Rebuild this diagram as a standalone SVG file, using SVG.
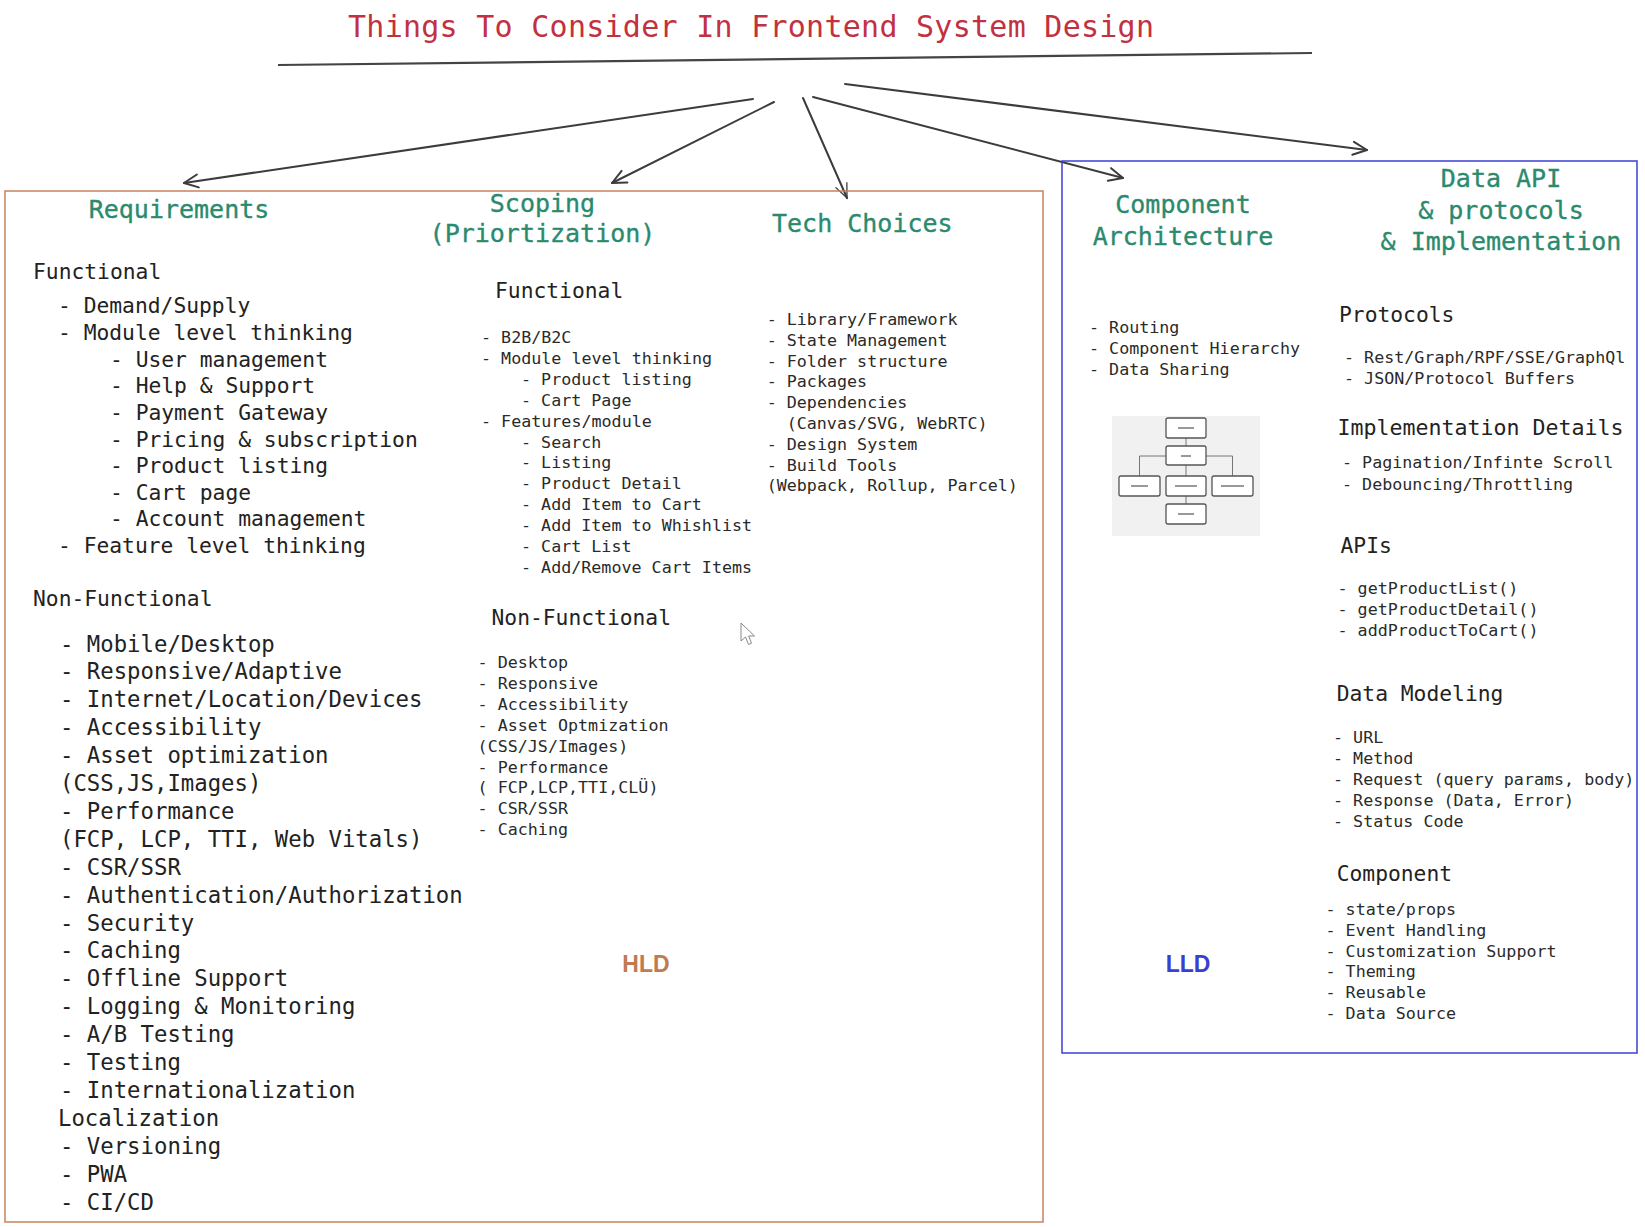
<svg xmlns="http://www.w3.org/2000/svg" width="1645" height="1227" viewBox="0 0 1645 1227">
<defs>
<style>
text { font-family: "DejaVu Sans Mono", "Liberation Mono", monospace; fill: #222; }
.title { font-size: 30px; fill: #c2313f; }
.hd { font-size: 25px; fill: #2b8a6e; stroke: #2b8a6e; stroke-width: 0.35; text-anchor: middle; }
.sub { font-size: 21.3px; }
.m { font-size: 21.3px; }
.l { font-size: 22.3px; }
.s { font-size: 16.7px; fill: #2a2a2a; }
.tag { font-family: "Liberation Sans", Arial, sans-serif; font-weight: bold; font-size: 23px; text-anchor: middle; }
.conn { fill: none; stroke: #3c3c3c; stroke-width: 2; stroke-linecap: round; }
.mini { fill: #fff; stroke: #555; stroke-width: 1.3; }
.miniline { fill: none; stroke: #777; stroke-width: 1; }
.minitxt { fill: #999; }
</style>
<marker id="ah" viewBox="-16 -9 18 18" refX="0" refY="0" markerWidth="18" markerHeight="18" markerUnits="userSpaceOnUse" orient="auto">
<path d="M-14,-6.5 L0,0 L-14,6.5" fill="none" stroke="#3c3c3c" stroke-width="2" stroke-linecap="round" stroke-linejoin="round"/>
</marker>
<marker id="ahThin" viewBox="-16 -9 18 18" refX="0" refY="0" markerWidth="18" markerHeight="18" markerUnits="userSpaceOnUse" orient="auto">
<path d="M-14,-6 L0,0 L-14,6" fill="none" stroke="#3c3c3c" stroke-width="1.3" stroke-linecap="round"/>
</marker>
</defs>
<rect width="1645" height="1227" fill="#ffffff"/>

<g id="title">
<text class="title" x="348" y="37" textLength="806" lengthAdjust="spacing">Things To Consider In Frontend System Design</text>
<line x1="278" y1="65" x2="1312" y2="53" stroke="#444" stroke-width="2.2"/>
</g>

<g id="connectors">
<line class="conn" x1="753" y1="99" x2="184" y2="183" marker-end="url(#ah)"/>
<line class="conn" x1="774" y1="102" x2="612" y2="183" marker-end="url(#ah)"/>
<line class="conn" x1="803" y1="98" x2="847" y2="198" stroke-width="1.3" marker-end="url(#ahThin)"/>
<line class="conn" x1="813" y1="97" x2="1123" y2="178" marker-end="url(#ah)"/>
<line class="conn" x1="845" y1="84" x2="1367" y2="150" marker-end="url(#ah)"/>
</g>

<g id="hld">
<rect x="5" y="191" width="1038" height="1031" fill="none" stroke="#c8825e" stroke-width="1.5"/>
<text class="tag" x="646" y="972" style="fill:#c27a52">HLD</text>
</g>

<g id="lld">
<rect x="1062" y="161" width="575" height="892" fill="none" stroke="#3a3fd6" stroke-width="1.5"/>
<text class="tag" x="1188" y="972" style="fill:#3b3fd0">LLD</text>
</g>

<g id="requirements">
<text class="hd" x="179" y="218">Requirements</text>
<text class="sub" x="33" y="279">Functional</text>
<text class="m" x="58" y="313">- Demand/Supply</text>
<text class="m" x="58" y="340">- Module level thinking</text>
<text class="m" x="110" y="366.5">- User management</text>
<text class="m" x="110" y="393">- Help &amp; Support</text>
<text class="m" x="110" y="420">- Payment Gateway</text>
<text class="m" x="110" y="446.5">- Pricing &amp; subscription</text>
<text class="m" x="110" y="473">- Product listing</text>
<text class="m" x="110" y="500">- Cart page</text>
<text class="m" x="110" y="526">- Account management</text>
<text class="m" x="58" y="553">- Feature level thinking</text>
<text class="sub" x="33" y="606">Non-Functional</text>
<text class="l" x="60" y="651.5">- Mobile/Desktop</text>
<text class="l" x="60" y="679.4">- Responsive/Adaptive</text>
<text class="l" x="60" y="707.3">- Internet/Location/Devices</text>
<text class="l" x="60" y="735.2">- Accessibility</text>
<text class="l" x="60" y="763.1">- Asset optimization</text>
<text class="l" x="60" y="791">(CSS,JS,Images)</text>
<text class="l" x="60" y="818.9">- Performance</text>
<text class="l" x="60" y="846.8">(FCP, LCP, TTI, Web Vitals)</text>
<text class="l" x="60" y="874.7">- CSR/SSR</text>
<text class="l" x="60" y="902.6">- Authentication/Authorization</text>
<text class="l" x="60" y="930.5">- Security</text>
<text class="l" x="60" y="958.4">- Caching</text>
<text class="l" x="60" y="986.3">- Offline Support</text>
<text class="l" x="60" y="1014.2">- Logging &amp; Monitoring</text>
<text class="l" x="60" y="1042.1">- A/B Testing</text>
<text class="l" x="60" y="1070">- Testing</text>
<text class="l" x="60" y="1097.9">- Internationalization</text>
<text class="l" x="58" y="1125.8">Localization</text>
<text class="l" x="60" y="1153.7">- Versioning</text>
<text class="l" x="60" y="1181.6">- PWA</text>
<text class="l" x="60" y="1209.5">- CI/CD</text>
</g>

<g id="scoping">
<text class="hd" x="542.5" y="212">Scoping</text>
<text class="hd" x="542.5" y="242">(Priortization)</text>
<text class="sub" x="495" y="298">Functional</text>
<text class="s" x="481" y="343">- B2B/B2C</text>
<text class="s" x="481" y="363.9">- Module level thinking</text>
<text class="s" x="521" y="384.8">- Product listing</text>
<text class="s" x="521" y="405.7">- Cart Page</text>
<text class="s" x="481" y="426.6">- Features/module</text>
<text class="s" x="521" y="447.5">- Search</text>
<text class="s" x="521" y="468.4">- Listing</text>
<text class="s" x="521" y="489.3">- Product Detail</text>
<text class="s" x="521" y="510.2">- Add Item to Cart</text>
<text class="s" x="521" y="531.1">- Add Item to Whishlist</text>
<text class="s" x="521" y="552">- Cart List</text>
<text class="s" x="521" y="572.9">- Add/Remove Cart Items</text>
<text class="sub" x="491.5" y="625">Non-Functional</text>
<text class="s" x="477.6" y="668">- Desktop</text>
<text class="s" x="477.6" y="688.9">- Responsive</text>
<text class="s" x="477.6" y="709.8">- Accessibility</text>
<text class="s" x="477.6" y="730.7">- Asset Optmization</text>
<text class="s" x="477.6" y="751.6">(CSS/JS/Images)</text>
<text class="s" x="477.6" y="772.5">- Performance</text>
<text class="s" x="477.6" y="793.4">( FCP,LCP,TTI,CLÜ)</text>
<text class="s" x="477.6" y="814.3">- CSR/SSR</text>
<text class="s" x="477.6" y="835.2">- Caching</text>
</g>

<g id="cursor">
<path d="M741,623 L741,641 L745.5,637 L748.5,644.5 L751.5,643.2 L748.6,636 L754.5,636 Z" fill="#fff" stroke="#888" stroke-width="1" stroke-linejoin="round"/>
</g>

<g id="tech-choices">
<text class="hd" x="862.3" y="232">Tech Choices</text>
<text class="s" x="766.7" y="325">- Library/Framework</text>
<text class="s" x="766.7" y="345.8">- State Management</text>
<text class="s" x="766.7" y="366.6">- Folder structure</text>
<text class="s" x="766.7" y="387.4">- Packages</text>
<text class="s" x="766.7" y="408.2">- Dependencies</text>
<text class="s" x="786.7" y="429">(Canvas/SVG, WebRTC)</text>
<text class="s" x="766.7" y="449.8">- Design System</text>
<text class="s" x="766.7" y="470.6">- Build Tools</text>
<text class="s" x="766.7" y="491.4">(Webpack, Rollup, Parcel)</text>
</g>

<g id="component-architecture">
<text class="hd" x="1183" y="213">Component</text>
<text class="hd" x="1183" y="245">Architecture</text>
<text class="s" x="1089" y="333">- Routing</text>
<text class="s" x="1089" y="354">- Component Hierarchy</text>
<text class="s" x="1089" y="375">- Data Sharing</text>
<g id="mini-diagram">
<rect x="1112" y="416" width="148" height="120" fill="#f1f1f1"/>
<path class="miniline" d="M1186,438 V446 M1166,456 H1139.5 V476 M1206,456 H1232.5 V476 M1186,465 V476 M1186,496 V504"/>
<rect class="mini" x="1166" y="418" width="40" height="20" rx="2"/>
<rect class="mini" x="1166" y="446" width="40" height="19" rx="2"/>
<rect class="mini" x="1119" y="476" width="41" height="20" rx="2"/>
<rect class="mini" x="1166" y="476" width="40" height="20" rx="2"/>
<rect class="mini" x="1212" y="476" width="41" height="20" rx="2"/>
<rect class="mini" x="1166" y="504" width="40" height="20" rx="2"/>
<rect class="minitxt" x="1178" y="427" width="16" height="2"/>
<rect class="minitxt" x="1181" y="455" width="10" height="2"/>
<rect class="minitxt" x="1131" y="485" width="17" height="2"/>
<rect class="minitxt" x="1175" y="485" width="22" height="2"/>
<rect class="minitxt" x="1221" y="485" width="23" height="2"/>
<rect class="minitxt" x="1178" y="513" width="16" height="2"/>
</g>
</g>

<g id="data-api">
<text class="hd" x="1501" y="187">Data API</text>
<text class="hd" x="1501" y="219">&amp; protocols</text>
<text class="hd" x="1501" y="250">&amp; Implementation</text>
<text class="sub" x="1339" y="322">Protocols</text>
<text class="s" x="1344" y="363">- Rest/Graph/RPF/SSE/GraphQl</text>
<text class="s" x="1344" y="383.5">- JSON/Protocol Buffers</text>
<text class="sub" x="1337.5" y="435" style="font-size:21.6px">Implementation Details</text>
<text class="s" x="1342" y="468">- Pagination/Infinte Scroll</text>
<text class="s" x="1342" y="489.5">- Debouncing/Throttling</text>
<text class="sub" x="1340.5" y="553">APIs</text>
<text class="s" x="1337.5" y="593.5">- getProductList()</text>
<text class="s" x="1337.5" y="614.5">- getProductDetail()</text>
<text class="s" x="1337.5" y="635.5">- addProductToCart()</text>
<text class="sub" x="1336.7" y="701">Data Modeling</text>
<text class="s" x="1333" y="743.3">- URL</text>
<text class="s" x="1333" y="764.1">- Method</text>
<text class="s" x="1333" y="784.9">- Request (query params, body)</text>
<text class="s" x="1333" y="805.7">- Response (Data, Error)</text>
<text class="s" x="1333" y="826.5">- Status Code</text>
<text class="sub" x="1336.7" y="881">Component</text>
<text class="s" x="1325.5" y="915">- state/props</text>
<text class="s" x="1325.5" y="935.8">- Event Handling</text>
<text class="s" x="1325.5" y="956.6">- Customization Support</text>
<text class="s" x="1325.5" y="977.4">- Theming</text>
<text class="s" x="1325.5" y="998.2">- Reusable</text>
<text class="s" x="1325.5" y="1019">- Data Source</text>
</g>
</svg>
